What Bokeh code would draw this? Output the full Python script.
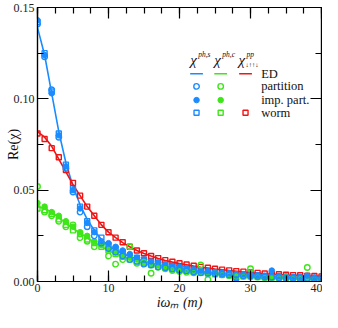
from bokeh.plotting import figure
from bokeh.models import Range1d, FixedTicker, LinearAxis, Label
from bokeh.embed import file_html
from bokeh.resources import INLINE

# ---------------- data ----------------
m = list(range(41))

ed_spin = [0.139, 0.124, 0.103, 0.082, 0.065, 0.052, 0.042, 0.034, 0.028, 0.023,
           0.0195, 0.0172, 0.0153, 0.0137, 0.0123, 0.0111, 0.0100, 0.0091, 0.0083, 0.0076,
           0.0070, 0.0064, 0.0059, 0.0054, 0.0050, 0.0046, 0.0043, 0.0040, 0.0037, 0.0034,
           0.0032, 0.0030, 0.0028, 0.0026, 0.0024, 0.0023, 0.0021, 0.0020, 0.0019, 0.0018, 0.0017]
ed_charge = [0.041, 0.040, 0.038, 0.035, 0.032, 0.029, 0.0265, 0.024, 0.0215, 0.019,
             0.0170, 0.0152, 0.0137, 0.0123, 0.0111, 0.0100, 0.0090, 0.0082, 0.0074, 0.0067,
             0.0061, 0.0055, 0.0050, 0.0046, 0.0042, 0.0038, 0.0035, 0.0032, 0.0029, 0.0027,
             0.0025, 0.0023, 0.0021, 0.0019, 0.0018, 0.0016, 0.0015, 0.0014, 0.0013, 0.0012, 0.0011]
ed_pair = [0.082, 0.079, 0.074, 0.067, 0.060, 0.053, 0.047, 0.041, 0.036, 0.031,
           0.027, 0.024, 0.0213, 0.0190, 0.0170, 0.0153, 0.0139, 0.0126, 0.0115, 0.0106,
           0.0098, 0.0091, 0.0084, 0.0078, 0.0073, 0.0068, 0.0064, 0.0060, 0.0056, 0.0052,
           0.0048, 0.0045, 0.0042, 0.0040, 0.0038, 0.0036, 0.0034, 0.0032, 0.0030, 0.0029, 0.0027]

spin_partition = [0.141, 0.123, 0.105, 0.079, 0.062, 0.049, 0.038, 0.030, 0.025, 0.021,
                  0.018, 0.016, 0.014, 0.012, 0.011, 0.0095, 0.0090, 0.0080, 0.0075, 0.0068,
                  0.0062, 0.0058, 0.0052, 0.0048, 0.0045, 0.0042, 0.0040, 0.0036, 0.0034, 0.0031,
                  0.0030, 0.0027, 0.0025, 0.0023, 0.0021, 0.0020, 0.0018, 0.0017, 0.0016, 0.0015, 0.0014]
spin_imp = [0.143, 0.124, 0.103, 0.080, 0.063, 0.050, 0.040, 0.032, 0.027, 0.022,
            0.021, 0.019, 0.017, 0.015, 0.013, 0.012, 0.011, 0.0105, 0.0095, 0.0085,
            0.0080, 0.0072, 0.0066, 0.0060, 0.0056, 0.0053, 0.0048, 0.0045, 0.0012, 0.0040,
            0.0036, 0.0034, 0.0031, 0.0060, 0.0030, 0.0028, 0.0026, 0.0025, 0.0032, 0.0022, 0.0021]
spin_worm = [0.142, 0.125, 0.104, 0.081, 0.064, 0.051, 0.041, 0.033, 0.028, 0.024,
             0.020, 0.018, 0.016, 0.014, 0.013, 0.012, 0.011, 0.010, 0.0090, 0.0083,
             0.0077, 0.0070, 0.0065, 0.0060, 0.0055, 0.0051, 0.0047, 0.0044, 0.0040, 0.0037,
             0.0035, 0.0033, 0.0030, 0.0029, 0.0027, 0.0025, 0.0024, 0.0022, 0.0021, 0.0020, 0.0019]

charge_partition = [0.052, 0.038, 0.036, 0.033, 0.030, 0.031, 0.024, 0.022, 0.019, 0.021,
                    0.014, 0.0095, 0.012, 0.019, 0.010, 0.0105, 0.0045, 0.0078, 0.0070, 0.0060,
                    0.0055, 0.0050, 0.0048, 0.0090, 0.0010, 0.0042, 0.0036, 0.0033, 0.0030, 0.0028,
                    0.0070, 0.0024, 0.0020, 0.0022, 0.0017, 0.0021, 0.0015, 0.0014, 0.0077, 0.0013, 0.0011]
charge_imp = [0.043, 0.041, 0.038, 0.036, 0.033, 0.030, 0.027, 0.025, 0.022, 0.020,
              0.018, 0.016, 0.014, 0.013, 0.012, 0.011, 0.0095, 0.0088, 0.0080, 0.0072,
              0.0065, 0.0060, 0.0055, 0.0050, 0.0046, 0.0043, 0.0040, 0.0036, 0.0034, 0.0031,
              0.0029, 0.0027, 0.0025, 0.0023, 0.0022, 0.0020, 0.0019, 0.0018, 0.0017, 0.0016, 0.0015]
charge_worm = [0.040, 0.039, 0.037, 0.034, 0.031, 0.028, 0.026, 0.023, 0.021, 0.019,
               0.017, 0.015, 0.0135, 0.012, 0.011, 0.010, 0.009, 0.008, 0.0075, 0.0068,
               0.0062, 0.0057, 0.0052, 0.0048, 0.0044, 0.0040, 0.0037, 0.0034, 0.0031, 0.0029,
               0.0027, 0.0025, 0.0023, 0.0021, 0.0020, 0.0018, 0.0017, 0.0016, 0.0015, 0.0014, 0.0013]

pair_worm = [0.081, 0.078, 0.073, 0.068, 0.061, 0.054, 0.047, 0.041, 0.036, 0.031,
             0.027, 0.024, 0.0215, 0.019, 0.017, 0.0155, 0.014, 0.0128, 0.0117, 0.0108,
             0.010, 0.0093, 0.0086, 0.0080, 0.0075, 0.0070, 0.0065, 0.0061, 0.0057, 0.0054,
             0.0050, 0.0047, 0.0044, 0.0042, 0.0040, 0.0037, 0.0035, 0.0034, 0.0032, 0.0030, 0.0028]

x_ticks = [0, 10, 20, 30, 40]
y_ticks = [0.0, 0.05, 0.10, 0.15]
y_tick_labels = ["0.00", "0.05", "0.10", "0.15"]
legend_rows = ["ED", "partition", "imp. part.", "worm"]
x_title = "iωₘ (m)"
y_title = "Re(χ)"

BLUE = "#1a8cff"
GREEN = "#3ee619"
RED = "#f01414"
SERIF = "Times New Roman"

# ---------------- figure ----------------
p = figure(width=322, height=312, output_backend="svg", toolbar_location=None,
           x_range=Range1d(0, 40), y_range=Range1d(0, 0.15),
           min_border_left=37, min_border_right=1, min_border_top=7, min_border_bottom=28)
p.background_fill_color = "white"
p.border_fill_color = "white"
p.grid.visible = False
p.outline_line_color = "black"
p.outline_line_width = 1.2

xt = FixedTicker(ticks=x_ticks, minor_ticks=[v * 2.5 for v in range(17)])
yt = FixedTicker(ticks=y_ticks, minor_ticks=[v * 0.025 for v in range(7)])


def style_axis(ax):
    ax.axis_line_color = "black"
    ax.axis_line_width = 1.2
    ax.major_tick_line_color = "black"
    ax.minor_tick_line_color = "black"
    ax.major_tick_line_width = 1.2
    ax.minor_tick_line_width = 1.2
    ax.major_tick_in = 11
    ax.major_tick_out = 0
    ax.minor_tick_in = 6
    ax.minor_tick_out = 0
    ax.major_label_text_font = SERIF
    ax.major_label_text_font_size = "12px"
    ax.major_label_text_color = "#222222"
    ax.major_label_standoff = 3


p.xaxis.ticker = xt
p.yaxis.ticker = yt
p.yaxis.major_label_overrides = {v: s for v, s in zip(y_ticks, y_tick_labels)}
style_axis(p.xaxis[0])
style_axis(p.yaxis[0])
p.xaxis.major_label_standoff = 2

p.xaxis.axis_label = x_title
p.xaxis.axis_label_text_font = SERIF
p.xaxis.axis_label_text_font_size = "14px"
p.xaxis.axis_label_text_font_style = "italic"
p.xaxis.axis_label_text_color = "#111111"
p.xaxis.axis_label_standoff = 0

p.yaxis.axis_label = y_title
p.yaxis.axis_label_text_font = SERIF
p.yaxis.axis_label_text_font_size = "14px"
p.yaxis.axis_label_text_font_style = "normal"
p.yaxis.axis_label_text_color = "#111111"
p.yaxis.axis_label_standoff = -10

top = LinearAxis(ticker=xt)
style_axis(top)
top.major_label_overrides = {v: "" for v in x_ticks}
top.major_label_standoff = 0
p.add_layout(top, "above")
right = LinearAxis(ticker=yt)
style_axis(right)
right.major_label_overrides = {v: "" for v in y_ticks}
right.major_label_standoff = 0
p.add_layout(right, "right")

# ---------------- data glyphs ----------------
for ed, col in ((ed_charge, GREEN), (ed_spin, BLUE), (ed_pair, RED)):
    p.line(m, ed, line_color=col, line_width=1.6)

for vals, col in ((charge_worm, GREEN), (spin_worm, BLUE), (pair_worm, RED)):
    p.scatter(m, vals, marker="square", size=5, fill_color=None, line_color=col, line_width=1.4)
for vals, col in ((charge_imp, GREEN), (spin_imp, BLUE)):
    p.scatter(m, vals, marker="circle", size=5.5, fill_color=col, line_color=col)
for vals, col in ((charge_partition, GREEN), (spin_partition, BLUE)):
    p.scatter(m, vals, marker="circle", size=5.5, fill_color=None, line_color=col, line_width=1.4)

# ---------------- legend (matrix layout) ----------------
col_x = [22.4, 25.8, 29.3]
row_y = [0.1137, 0.1068, 0.0993, 0.0924]
text_x = 31.5
cols = [BLUE, GREEN, RED]
for cx, col in zip(col_x, cols):
    p.line([cx - 0.9, cx + 0.9], [row_y[0], row_y[0]], line_color=col, line_width=1.6)
    p.scatter([cx], [row_y[3]], marker="square", size=5, fill_color=None, line_color=col, line_width=1.4)
for cx, col in zip(col_x[:2], cols[:2]):
    p.scatter([cx], [row_y[1]], marker="circle", size=5.5, fill_color=None, line_color=col, line_width=1.4)
    p.scatter([cx], [row_y[2]], marker="circle", size=5.5, fill_color=col, line_color=col)
for ry, txt in zip(row_y, legend_rows):
    p.add_layout(Label(x=text_x, y=ry, text=txt, text_font=SERIF, text_font_size="12.5px",
                       text_baseline="middle", text_align="left", text_color="#111111"))

hdr_y = 0.1212
for hx, sup in ((21.5, "ph,s"), (24.9, "ph,c"), (28.3, "pp")):
    p.add_layout(Label(x=hx, y=hdr_y, text="χ", text_font=SERIF, text_font_size="15px",
                       text_font_style="italic", text_baseline="alphabetic", text_align="left",
                       text_color="#111111"))
    p.add_layout(Label(x=hx, y=hdr_y, x_offset=8, y_offset=6, text=sup, text_font=SERIF,
                       text_font_size="7.5px", text_font_style="italic", text_baseline="alphabetic",
                       text_align="left", text_color="#111111"))
p.add_layout(Label(x=28.3, y=hdr_y, x_offset=7, y_offset=-4, text="↓↑↑↓", text_font=SERIF,
                   text_font_size="6.5px", text_baseline="alphabetic", text_align="left",
                   text_color="#111111"))

open("out.html", "w").write(file_html(p, INLINE))
